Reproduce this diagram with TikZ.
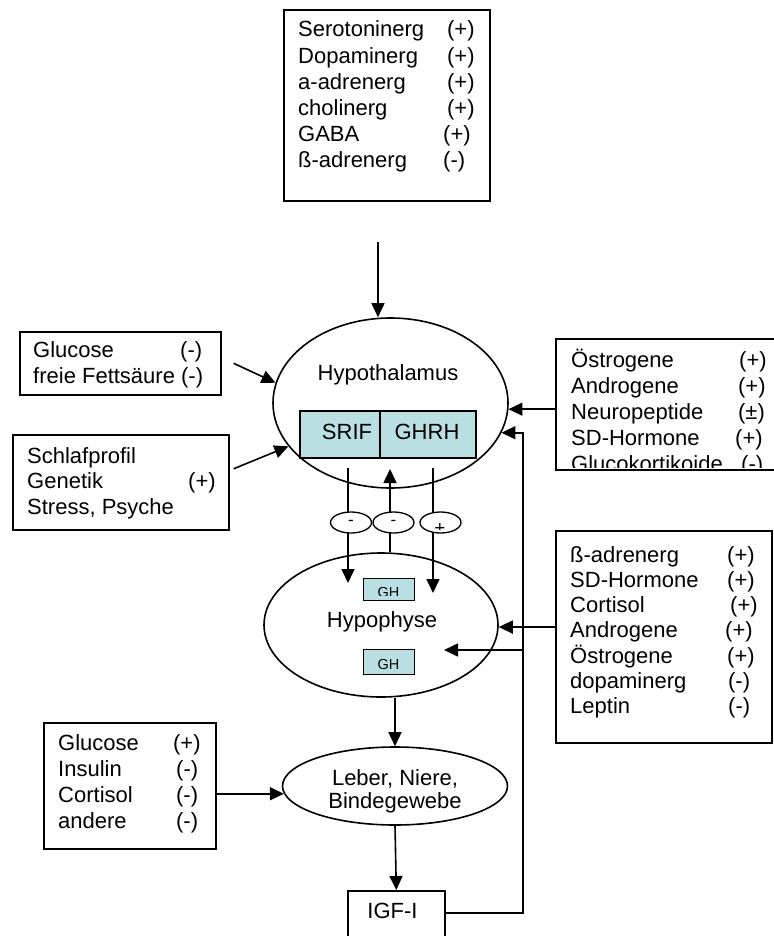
\documentclass[tikz,border=0pt]{standalone}
\usepackage{fontspec}
\setmainfont{Liberation Sans}
\usetikzlibrary{arrows.meta,calc,shapes.geometric}
\definecolor{ghfill}{RGB}{186,223,227}
\newcommand\rw[3]{\makebox[#1][l]{#2}#3}
\begin{document}
\begin{tikzpicture}[x=1pt,y=-1pt,
  lw/.style={line width=1.6pt},
  box/.style={draw, lw, rectangle, inner sep=0pt, anchor=north west},
  oval/.style={draw, lw, ellipse, inner sep=0pt},
  sgn/.style={draw, line width=1.3pt, ellipse, fill=white, inner sep=0pt,
              minimum width=41pt, minimum height=21pt, font=\fontsize{17}{18}\selectfont},
  lst/.style={inner sep=0pt, anchor=base west},
  lbl/.style={inner sep=0pt, anchor=base, font=\fontsize{22}{23}\selectfont},
  ghtxt/.style={inner sep=0pt, anchor=base, font=\fontsize{14.5}{16}\selectfont},
  arr/.style={lw, -{Triangle[length=14pt,width=13pt]}},
]
\useasboundingbox (0,0) rectangle (773,936);

% ---------- top box
\node[box, minimum width=206pt, minimum height=191pt] (top) at (283,9) {};
\node[lst, font=\fontsize{22}{26.2}\selectfont] (toptxt) at (298,37) {\begin{tabular}[t]{@{}l@{}}
\rw{149pt}{Serotoninerg}{(+)}\\
\rw{149pt}{Dopaminerg}{(+)}\\
\rw{149pt}{a-adrenerg}{(+)}\\
\rw{149pt}{cholinerg}{(+)}\\
\rw{145pt}{GABA}{(+)}\\
\rw{145pt}{ß-adrenerg}{(-)}
\end{tabular}};

% ---------- hypothalamus
\node[oval, minimum width=235pt, minimum height=170pt] (hyp) at (390.5,403) {};
\node[lbl] (hyptxt) at (388,380) {Hypothalamus};
\node[box, fill=ghfill, minimum width=80pt, minimum height=47pt] (srif) at (299,410) {};
\node[box, fill=ghfill, minimum width=96pt, minimum height=47pt] (ghrh) at (379,410) {};
\node[lbl] (sriftxt) at (347,439) {SRIF};
\node[lbl] (ghrhtxt) at (427,439) {GHRH};

\coordinate (ta) at (378,242);
\draw[arr] (ta) -- (ta |- hyp.north);

% ---------- left boxes
\node[box, minimum width=201pt, minimum height=63pt] (lb1) at (19,331) {};
\node[lst, font=\fontsize{22}{26}\selectfont] (lb1txt) at (33,357) {\begin{tabular}[t]{@{}l@{}}
\rw{147pt}{Glucose}{(-)}\\
freie Fettsäure (-)
\end{tabular}};
\draw[arr] ($(lb1.east)+(12,0)$) -- (hyp.170.3);

\node[box, minimum width=216pt, minimum height=95pt] (lb2) at (12,434) {};
\node[lst, font=\fontsize{22}{25.5}\selectfont] (lb2txt) at (27,463) {\begin{tabular}[t]{@{}l@{}}
Schlafprofil\\
\rw{161pt}{Genetik}{(+)}\\
Stress, Psyche
\end{tabular}};
\draw[arr] ($(lb2.east)+(4,-13.5)$) -- (hyp.203.7);

% ---------- right upper box (runs off the page, text clipped)
\node[box, minimum width=232pt, minimum height=131pt] (ru) at (555,338) {};
\begin{scope}
\clip (556,339) rectangle (790,467.5);
\node[lst, font=\fontsize{22}{26}\selectfont] (rutxt) at (571,367) {\begin{tabular}[t]{@{}l@{}}
\rw{168pt}{Östrogene}{(+)}\\
\rw{167pt}{Androgene}{(+)}\\
\rw{167pt}{Neuropeptide}{(±)}\\
\rw{164pt}{SD-Hormone}{(+)}\\
\rw{170pt}{Glucokortikoide}{(-)}
\end{tabular}};
\end{scope}
\draw[arr] (ru.west |- hyp.-3.4) -- (hyp.-3.4);

% ---------- hypophyse
\node[oval, minimum width=234pt, minimum height=144pt] (hypo) at (381,625) {};
\node[lbl] (hypotxt) at (382,627) {Hypophyse};
\node[box, fill=ghfill, line width=1.4pt, minimum width=51pt, minimum height=22pt] (gh1) at (363,578) {};
\node[box, fill=ghfill, line width=1.4pt, minimum width=51pt, minimum height=25pt] (gh2) at (363,649) {};
\begin{scope}
\clip (364,579) rectangle (413,595);
\node[ghtxt] (gh1txt) at (388.5,597.5) {GH};
\end{scope}
\begin{scope}
\clip (364,650) rectangle (413,673);
\node[ghtxt] (gh2txt) at (388.5,669) {GH};
\end{scope}

% ---------- vertical connections with sign ovals
\coordinate (a1s) at (348,468);
\coordinate (a1e) at (348,583);
\coordinate (a2e) at (390,469);
\coordinate (a3s) at (433,468);
\coordinate (a3e) at (433,593);
\draw[arr] (a1s) -- (a1e);
\draw[arr] (a2e |- hypo.north) -- (a2e);
\draw[arr] (a3s) -- (a3e);
\node[sgn] (s1) at (351,522.5) {-};
\node[sgn] (s2) at (393.5,522.5) {-};
\node[sgn] (s3) at (440.5,522.5) {};
\begin{scope}
\clip (420,510) rectangle (462,529);
\node[inner sep=0pt, font=\fontsize{19}{20}\selectfont] (s3txt) at (440,529.5) {+};
\end{scope}

% ---------- right lower box
\node[box, minimum width=216pt, minimum height=212pt] (rl) at (555,530) {};
\node[lst, font=\fontsize{22}{25.2}\selectfont] (rltxt) at (570,562) {\begin{tabular}[t]{@{}l@{}}
\rw{157pt}{ß-adrenerg}{(+)}\\
\rw{157pt}{SD-Hormone}{(+)}\\
\rw{160pt}{Cortisol}{(+)}\\
\rw{155pt}{Androgene}{(+)}\\
\rw{157pt}{Östrogene}{(+)}\\
\rw{158pt}{dopaminerg}{(-)}\\
\rw{158pt}{Leptin}{(-)}
\end{tabular}};
\draw[arr] (rl.west |- hypo.-1) -- (hypo.-1);

% ---------- Leber
\node[oval, minimum width=225pt, minimum height=78pt] (leber) at (395,786) {};
\node[lbl] (lebertxt) at (395,785) {\begin{tabular}[t]{@{}c@{}}Leber, Niere,\\Bindegewebe\end{tabular}};
\draw[arr] (leber.north |- hypo.south) -- (leber.north);

\node[box, minimum width=172pt, minimum height=126pt] (lb3) at (43,722) {};
\node[lst, font=\fontsize{22}{26}\selectfont] (lb3txt) at (58,750) {\begin{tabular}[t]{@{}l@{}}
\rw{115pt}{Glucose}{(+)}\\
\rw{118pt}{Insulin}{(-)}\\
\rw{118pt}{Cortisol}{(-)}\\
\rw{118pt}{andere}{(-)}
\end{tabular}};
\draw[arr] (lb3.east |- leber.184.2) -- (leber.184.2);

% ---------- IGF-I and feedback
\node[box, minimum width=97pt, minimum height=52pt] (igf) at (347,890) {};
\node[lbl] (igftxt) at (392.5,918) {IGF-I};
\draw[arr] (leber.south) -- (igf.north);

\coordinate (fb) at (523,913);
\coordinate (h2) at (444,650);
\draw[arr] (igf.east |- fb) -- (fb) -- (fb |- hyp.-15.9) -- (hyp.-15.9);
\draw[arr] (h2 -| fb) -- (h2);
\end{tikzpicture}
\end{document}
